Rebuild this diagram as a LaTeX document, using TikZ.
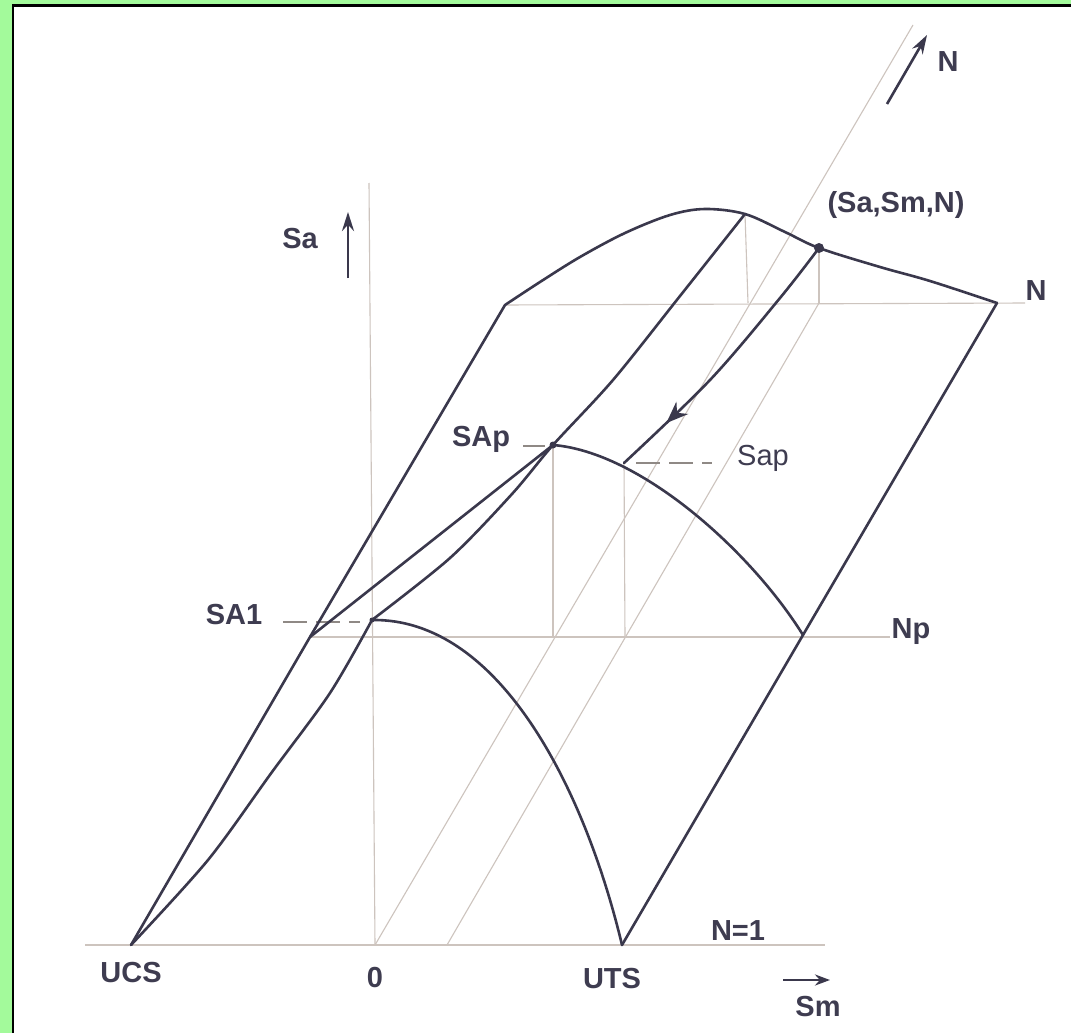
\documentclass[tikz,border=0pt]{standalone}
\usepackage{fontspec}
\setmainfont{Liberation Sans}
\usetikzlibrary{arrows.meta,decorations.markings}
\definecolor{ink}{RGB}{58,56,76}
\definecolor{txt}{RGB}{62,60,80}
\definecolor{guidecol}{RGB}{205,196,190}
\definecolor{bggreen}{RGB}{163,250,155}
\begin{document}
\begin{tikzpicture}[x=1pt,y=-1pt,
  thickline/.style={draw=ink,line width=2.6pt,line join=round,line cap=round},
  guide/.style={draw=guidecol,line width=1.1pt},
  dashguide/.style={draw=guidecol!70!black,line width=1.1pt,dash pattern=on 24pt off 9pt},
  lbl/.style={text=txt,font=\fontsize{29}{30}\selectfont\bfseries,inner sep=0pt,anchor=base},
  axarrow/.style={draw=ink,line width=2.6pt,-{Stealth[length=19pt,width=12pt]}}]
\useasboundingbox (0,0) rectangle (1071,1033);
\fill[bggreen] (0,0) rectangle (1071,1033);
\fill[white] (12,5) rectangle (1071,1033);
\draw[black,line width=2.5pt] (13,1033) -- (13,5.5) -- (1071,5.5);

% key points
\coordinate (UCS) at (131,945);
\coordinate (O) at (375,945);
\coordinate (UTS) at (622,945);
\coordinate (AxL) at (85,945);
\coordinate (AxR) at (825,945);
\coordinate (Vtop) at (369,183);
\coordinate (Ntop) at (913,25);
\coordinate (B0) at (447,945);
\coordinate (Bn) at (819,303);
\coordinate (Lnp) at (310,637);
\coordinate (Ln) at (505,305);
\coordinate (Rn) at (997,303);
\coordinate (Rnp) at (803,635);
\coordinate (NE) at (1025,303);
\coordinate (NpE) at (890,637);
\coordinate (P) at (819,248);
\coordinate (SA1) at (372,620);
\coordinate (SAp) at (553,445);
\coordinate (Sap) at (624,463);
\coordinate (Tk) at (745,214);
\coordinate (SApf) at (553,637);
\coordinate (Sapf) at (625,637);
\coordinate (Tkf) at (748,303);
\coordinate (d1a) at (283,622); \coordinate (d1b) at (360,622);
\coordinate (d2a) at (523,446); \coordinate (d2b) at (545,446);
\coordinate (d3a) at (636,463); \coordinate (d3b) at (712,463);

% guide lines
\draw[guide] (AxL) -- (AxR);
\draw[guide] (Vtop) -- (O);
\draw[guide] (O) -- (Ntop);
\draw[guide] (B0) -- (Bn);
\draw[guide] (Ln) -- (NE);
\draw[guide] (Lnp) -- (NpE);
\draw[guide] (SAp) -- (SApf);
\draw[guide] (Sap) -- (Sapf);
\draw[guide] (P) -- (Bn);
\draw[guide] (Tk) -- (Tkf);
\draw[dashguide] (d1a) -- (d1b);
\draw[dashguide] (d2a) -- (d2b);
\draw[dashguide] (d3a) -- (d3b);

% surface outline
\draw[thickline] (UCS) -- (Lnp) -- (Ln);
\draw[thickline] plot[smooth,tension=0.55] coordinates {(Ln) (540,282) (580,257) (625,233) (670,215) (705,209) (745,214) (785,232) (P) (880,267) (930,281) (Rn)};
\draw[thickline] (Rn) -- (Rnp) -- (UTS);
\draw[thickline] plot[smooth,tension=0.5] coordinates {(UCS) (208,860) (272,772) (330,693) (SA1)};
\draw[thickline] (Lnp) -- (SAp);
\draw[thickline] plot[smooth,tension=0.5] coordinates {(SA1) (450,558) (512,494) (SAp) (613,380) (680,296) (Tk)};
\draw[thickline] (SA1) .. controls (500,618) and (585,790) .. (UTS);
\draw[thickline] (SAp) .. controls (640,452) and (750,550) .. (Rnp);
\draw[thickline,postaction={decorate},decoration={markings,mark=at position 0.8 with {\arrow{Stealth[length=22pt,width=17pt]}}}]
  plot[smooth,tension=0.55] coordinates {(P) (780,298) (710,380) (Sap)};

\fill[ink] (P) circle (5);
\fill[ink] (SAp) circle (3.5);
\fill[ink] (SA1) circle (2.5);

% axis arrows
\coordinate (saA) at (348,278); \coordinate (saB) at (348,212);
\coordinate (nA) at (887,104); \coordinate (nB) at (927,35);
\coordinate (smA) at (783,980); \coordinate (smB) at (830,980);
\draw[axarrow] (saA) -- (saB);
\draw[axarrow] (nA) -- (nB);
\draw[draw=ink,line width=2.6pt,-{Stealth[length=15pt,width=11pt]}] (smA) -- (smB);

% labels
\node[lbl] (lUCS) at (131,982) {UCS};
\node[lbl] (l0) at (375,987) {0};
\node[lbl] (lUTS) at (612,988) {UTS};
\node[lbl] (lN1) at (738,940) {N=1};
\node[lbl] (lSm) at (818,1016) {Sm};
\node[lbl] (lSa) at (300,248) {Sa};
\node[lbl] (lSA1) at (234,624) {SA1};
\node[lbl] (lSAp) at (481,446) {SAp};
\node[lbl] (lNp) at (911,638) {Np};
\node[lbl] (lNr) at (1036,300) {N};
\node[lbl] (lP) at (896,212) {(Sa,Sm,N)};
\node[lbl] (lNt) at (948,72) {N};
\node[lbl,font=\fontsize{29}{30}\selectfont,anchor=base west] (lSap) at (737,465) {Sap};
\end{tikzpicture}
\end{document}
